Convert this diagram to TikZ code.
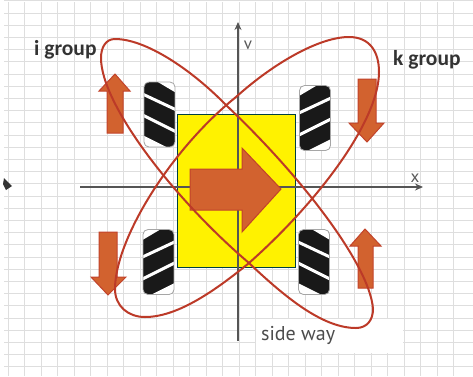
\documentclass[tikz,border=0pt]{standalone}
\usepackage{fontspec}
\setmainfont{Carlito}
\newfontfamily\notefont{PT Sans}
\usepackage{xcolor}
\usetikzlibrary{arrows.meta}
\definecolor{gridgray}{HTML}{DEDEDE}
\definecolor{arrowfill}{HTML}{D2622F}
\definecolor{arrowedge}{HTML}{C2432B}
\definecolor{loopred}{HTML}{BC3A28}
\definecolor{axisgray}{HTML}{555555}

\newcommand{\wheelpic}[3]{%
  \begin{scope}[shift={(#1,#2)},xscale=#3]
    \begin{scope}
      \clip[rounded corners=5pt] (-15.5,-32.5) rectangle (15.5,32.5);
      \fill[black!90] (-15.5,-32.5) rectangle (15.5,32.5);
      \fill[white] (-16,-41) -- (16,-22) -- (16,-33) -- (-16,-50) -- cycle;
      \fill[white] (-16,21) -- (16,37) -- (16,46) -- (-16,46) -- cycle;
      \draw[white, line width=3pt] (-16,-20) -- (16,-5);
      \draw[white, line width=3pt] (-16,1) -- (16,17);
    \end{scope}
    \draw[rim] (-15.5,-32.5) rectangle (15.5,32.5);
  \end{scope}}

\begin{document}
\begin{tikzpicture}[
    x=1pt, y=-1pt,
    rim/.style={draw=black!35, line width=0.8pt, rounded corners=5pt},
    axis/.style={draw=axisgray, line width=1.4pt, -{Stealth[length=8pt,width=7pt]}},
    movearrow/.style={fill=arrowfill, draw=arrowedge, line width=1pt, line join=miter},
    loop/.style={draw=loopred, line width=2pt},
    groupname/.style={font=\fontsize{21.5}{22}\selectfont\bfseries, text=black!80, inner sep=0pt},
    axisname/.style={font=\notefont\fontsize{17}{17}\selectfont, text=black!65, inner sep=0pt}
]
\useasboundingbox (0,0) rectangle (473,376);
\fill[white] (0,0) rectangle (473,376);

% squared paper
\foreach \k in {0,...,27}
    \draw[gridgray, line width=1pt] ({8.3+16.5*\k},2) -- ({8.3+16.5*\k},376);
\foreach \k in {-1,...,29}
    \draw[gridgray, line width=1pt] (4,{13+12.2*\k}) -- (473,{13+12.2*\k});
\fill[white] (256,319) rectangle (403,353);
\fill[black!80] (4,178) -- (12,186) -- (6,190) -- (3,184) -- cycle;

\fill[yellow] (177,114) rectangle (295,267);
\draw[black!50!teal, line width=0.7pt] (177,114) rectangle (295,267);

\draw[axis] (80,187) -- (423,187);
\draw[axis] (238,341) -- (238,22);
\node[axisname] (vname) at (248,45) {v};
\node[axisname] (xname) at (415,178) {x};

\wheelpic{159.5}{114.5}{1}
\wheelpic{315}{118}{-1}
\wheelpic{158.5}{262}{-1}
\wheelpic{314}{262}{1}

% small arrows, then the big one
\draw[movearrow] (107,133) -- (107,91) -- (99,91) -- (115,74) -- (130,91) -- (123,91) -- (123,133) -- cycle;
\draw[movearrow] (358,79) -- (358,123) -- (349,123) -- (367,142) -- (384,123) -- (376,123) -- (376,79) -- cycle;
\draw[movearrow] (99,232) -- (99,277) -- (91,277) -- (108,295) -- (126,277) -- (117,277) -- (117,232) -- cycle;
\draw[movearrow] (358,288) -- (358,246) -- (350,246) -- (365,229) -- (381,246) -- (373,246) -- (373,288) -- cycle;
\draw[movearrow] (190,169) -- (242,169) -- (242,148) -- (281,189) -- (242,232) -- (242,210) -- (190,210) -- cycle;

% the two groups
\draw[loop] (115,39) .. controls (106,39) and (101,47) .. (101,58)
    .. controls (101,105) and (175,200) .. (249,263)
    .. controls (290,302) and (325,328) .. (356,328)
    .. controls (367,328) and (373,320) .. (373,309)
    .. controls (370,265) and (300,175) .. (227,106)
    .. controls (190,68) and (145,39) .. cycle;
\draw[loop] (349,37) .. controls (370,37) and (379,52) .. (379,72)
    .. controls (379,120) and (320,200) .. (249,263)
    .. controls (210,295) and (175,317) .. (145,317)
    .. controls (128,317) and (115,306) .. (115,289)
    .. controls (115,240) and (170,150) .. (236,97)
    .. controls (275,62) and (320,37) .. cycle;

\node[groupname, anchor=west] (igroup) at (34,50) {i group};
\node[groupname, anchor=west] (kgroup) at (393,60) {k group};
\node[font=\notefont\fontsize{20}{20}\selectfont, text=black!70, inner sep=0pt, anchor=west] (sideway) at (261,335) {side way};
\end{tikzpicture}
\end{document}
